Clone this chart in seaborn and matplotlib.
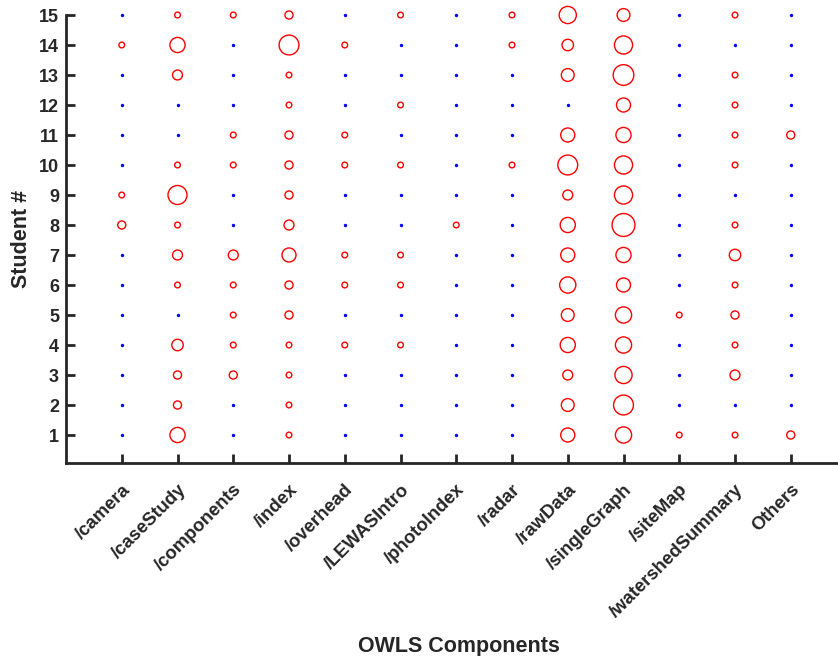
import numpy as np
import pandas as pd
import matplotlib
matplotlib.use("Agg")
import matplotlib.pyplot as plt
import seaborn as sns

components = ["/camera", "/caseStudy", "/components", "/index", "/overhead",
              "/LEWASIntro", "/photoIndex", "/radar", "/rawData", "/singleGraph",
              "/siteMap", "/watershedSummary", "Others"]
students = list(range(1, 16))

# visit counts per component, students 1..15
camera           = [0, 0, 0, 0, 0, 0, 0, 2, 1, 0, 0, 0, 0, 1, 0]
caseStudy        = [7, 2, 2, 4, 0, 1, 3, 1, 11, 1, 0, 0, 3, 7, 1]
components_v     = [0, 0, 2, 1, 1, 1, 3, 0, 0, 1, 1, 0, 0, 0, 1]
index_v          = [1, 1, 1, 1, 2, 2, 6, 3, 2, 2, 2, 1, 1, 12, 2]
overhead         = [0, 0, 0, 1, 0, 1, 1, 0, 0, 1, 1, 0, 0, 1, 0]
LEWASIntro       = [0, 0, 0, 1, 0, 1, 1, 0, 0, 1, 0, 1, 0, 0, 1]
photoIndex       = [0, 0, 0, 0, 0, 0, 0, 1, 0, 0, 0, 0, 0, 0, 0]
radar            = [0, 0, 0, 0, 0, 0, 0, 0, 0, 1, 0, 0, 0, 1, 1]
rawData          = [6, 5, 3, 7, 5, 8, 6, 7, 3, 12, 6, 0, 5, 4, 9]
singleGraph      = [8, 12, 9, 8, 8, 6, 7, 16, 10, 10, 7, 6, 13, 10, 5]
siteMap          = [1, 0, 0, 0, 1, 0, 0, 0, 0, 0, 0, 0, 0, 0, 0]
watershedSummary = [1, 0, 3, 1, 2, 1, 4, 1, 0, 1, 1, 1, 1, 0, 1]
others           = [2, 0, 0, 0, 0, 0, 0, 0, 0, 0, 2, 0, 0, 0, 0]

series = [camera, caseStudy, components_v, index_v, overhead, LEWASIntro,
          photoIndex, radar, rawData, singleGraph, siteMap, watershedSummary, others]

rows = []
for ci, vals in enumerate(series):
    for si, v in zip(students, vals):
        rows.append({"comp": ci + 1, "student": si, "count": v})
df = pd.DataFrame(rows)

sns.set_theme(style="white")
plt.rcParams["font.family"] = ["Liberation Sans", "DejaVu Sans"]
plt.rcParams["font.weight"] = "bold"
TXT = "#262626"

fig = plt.figure(figsize=(8.38, 6.56), dpi=100)
ax = fig.add_axes([66 / 838, (656 - 463) / 656, 1 - 66 / 838, (463 - 15) / 656])

zeros = df[df["count"] == 0]
nz = df[df["count"] > 0]

sns.scatterplot(data=zeros, x="comp", y="student", ax=ax, color="blue",
                s=6, marker="o", linewidth=0, legend=False, clip_on=False)
sns.scatterplot(data=nz, x="comp", y="student", size="count",
                sizes=(0, 17 * 16), size_norm=(0, 16), ax=ax, legend=False,
                marker="o", linewidth=1.0, clip_on=False)
coll = ax.collections[-1]
coll.set_facecolor("none")
coll.set_edgecolor("red")
coll.set_linewidth(1.0)

ax.set_xlim(0, 772 / 55.75)
ax.set_ylim(1 - 28 / 30, 15)
ax.set_xticks(range(1, 14))
ax.set_xticklabels(components, rotation=45, ha="right", rotation_mode="anchor",
                   fontsize=13.3, fontweight="bold", color=TXT)
ax.set_yticks(students)
ax.set_yticklabels([str(s) for s in students], fontsize=13, fontweight="bold", color=TXT)

for side in ["top", "right"]:
    ax.spines[side].set_visible(False)
for side in ["left", "bottom"]:
    ax.spines[side].set_linewidth(2.0)
    ax.spines[side].set_color(TXT)
ax.tick_params(axis="both", direction="in", length=6.5, width=2.0, color=TXT,
               bottom=True, left=True, top=False, right=False)
ax.tick_params(axis="x", pad=13)
ax.tick_params(axis="y", pad=5)

ax.set_xlabel("OWLS Components", fontsize=15.5, fontweight="bold", color=TXT)
ax.set_ylabel("Student #", fontsize=15.5, fontweight="bold", color=TXT)
ax.xaxis.set_label_coords((459 - 66) / 772, -(636 - 463) / 448)
ax.yaxis.set_label_coords(-(66 - 32) / 772, 0.5)
ax.grid(False)

fig.savefig("out.png", dpi=100)
